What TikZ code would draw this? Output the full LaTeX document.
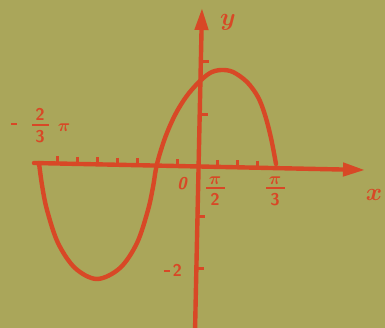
\documentclass[tikz,border=0pt]{standalone}
\usepackage{amsmath}
\usetikzlibrary{arrows.meta}
\definecolor{bgc}{RGB}{170,166,90}
\definecolor{inkc}{RGB}{216,72,38}
\tikzset{
  ink/.style={draw=inkc, line width=4.4pt, line cap=round},
  axisline/.style={ink, -{Triangle[length=22pt,width=13pt]}},
  tickmark/.style={draw=inkc, line width=3pt},
  fracbar/.style={draw=inkc, line width=2.4pt},
  lab/.style={text=inkc, font=\sffamily\bfseries\boldmath\fontsize{17}{17}\selectfont, inner sep=0pt},
  biglab/.style={text=inkc, font=\boldmath\fontsize{24}{24}\selectfont, inner sep=0pt},
}
\newcommand{\minusbar}{\rule[4pt]{6pt}{2.4pt}}
\begin{document}
\begin{tikzpicture}[x=1pt,y=-1pt]
\fill[bgc] (0,0) rectangle (385,328);
\useasboundingbox (0,0) rectangle (385,328);
% axes
\coordinate (xs) at (34,163);
\coordinate (xe) at (365,170);
\coordinate (ys) at (195,332);
\coordinate (ye) at (202,8);
\draw[axisline] (xs) -- (xe);
\draw[axisline] (ys) -- (ye);
% x ticks
\foreach \t in {57,77,97,117,137,177,217,237,257}
  \draw[tickmark] (\t,{163+0.0212*(\t-34)-7}) -- (\t,{163+0.0212*(\t-34)});
% y ticks
\foreach \t in {62,115,217,269}
  \draw[tickmark] ({195+7*(332-\t)/324},\t) -- ({195+7*(332-\t)/324+8},\t);
% curve
\draw[ink, line join=round] plot[smooth, tension=0.55] coordinates {
  (39,163) (42,185) (47,210) (58,243) (75,268) (97,279) (120,268) (137,243) (148,210) (153,187) (157,164)
  (165,138) (175,115) (186,97) (198,83) (210,73) (221,70) (233,72) (247,82) (258,97) (265,115) (271,138) (276,164)};
% labels
\node[biglab] (ylab) at (228,22) {$y$};
\node[biglab] (xlab) at (374,195) {$x$};
\node[lab] (zero) at (182,184) {\itshape 0};
% pi/2
\node[lab] (pi2n) at (215,181) {$\pi$};
\coordinate (pi2a) at (206,188); \coordinate (pi2b) at (225,188);
\draw[fracbar] (pi2a) -- (pi2b);
\node[lab] (pi2d) at (215,199) {2};
% pi/3
\node[lab] (pi3n) at (275,181) {$\pi$};
\coordinate (pi3a) at (266,188); \coordinate (pi3b) at (285,188);
\draw[fracbar] (pi3a) -- (pi3b);
\node[lab] (pi3d) at (275,200) {3};
% -2
\node[lab] (m2) at (173,270) {\minusbar\,2};
% -2/3 pi
\node[lab] (minus) at (14,126) {\minusbar};
\node[lab] (twon) at (40,114) {2};
\coordinate (ta) at (32,125); \coordinate (tb) at (49,125);
\draw[fracbar] (ta) -- (tb);
\node[lab] (threed) at (40,137) {3};
\node[lab] (pileft) at (64,128) {$\pi$};
\end{tikzpicture}
\end{document}
